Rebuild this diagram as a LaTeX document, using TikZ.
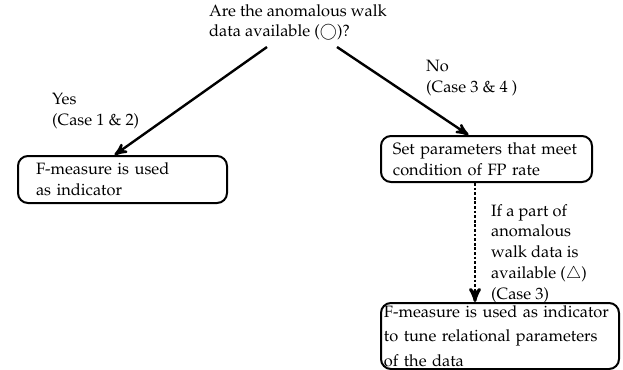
\documentclass[tikz,border=0pt]{standalone}
\usepackage[T1]{fontenc}
\usepackage{mathpazo}
\usetikzlibrary{positioning, arrows}
\tikzset{
	>=stealth', % filled arrow heads
	box/.style={draw, line width=1pt, rounded corners=5pt, anchor=north west, align=left, inner ysep=0pt}, % the rounded boxes
	txt/.style={anchor=north west, inner sep=0pt, align=left}, % free text
}

\begin{document}
\begin{tikzpicture}[x=0.5pt,y=-0.5pt,->,line width=1.2pt,font=\fontsize{8.2}{10.4}\selectfont]
	\useasboundingbox (0,0) rectangle (623,370);
	\node[txt] (q) at (208,3) {Are the anomalous walk\\data available ($\bigcirc$)?};
	\coordinate (qL) at (267,47);
	\coordinate (qR) at (337,47);
	\node[box, text width=86.5pt, inner xsep=9pt, minimum height=23.5pt] (ind) at (17,155) {F-measure is used\\as indicator};
	\node[box, text width=93.5pt, inner xsep=6pt, minimum height=23pt] (fp) at (380,135) {Set parameters that meet\\condition of FP rate};
	\node[box, text width=116pt, inner xsep=1.5pt, minimum height=33pt, font=\fontsize{8.2}{12.2}\selectfont] (tune) at (380,302) {F-measure is used as indicator\\to tune relational parameters\\of the data};
	\node[txt] (yes) at (51,92) {Yes\\(Case 1 \& 2)};
	\node[txt] (no) at (425,59) {No\\(Case 3 \& 4 )};
	\node[txt] (part) at (490,203) {If a part of\\anomalous\\walk data is\\available ($\triangle$)\\(Case 3)};
	\path (qL) edge ([xshift=-4pt]ind.north)
	(qR) edge ([xshift=-9pt]fp.north);
	\draw[dash pattern=on 1.4pt off 0.9pt, line width=1.4pt] ([xshift=-5.75pt]fp.south) -- ([xshift=-5.75pt]fp.south |- tune.north);
\end{tikzpicture}
\end{document}
